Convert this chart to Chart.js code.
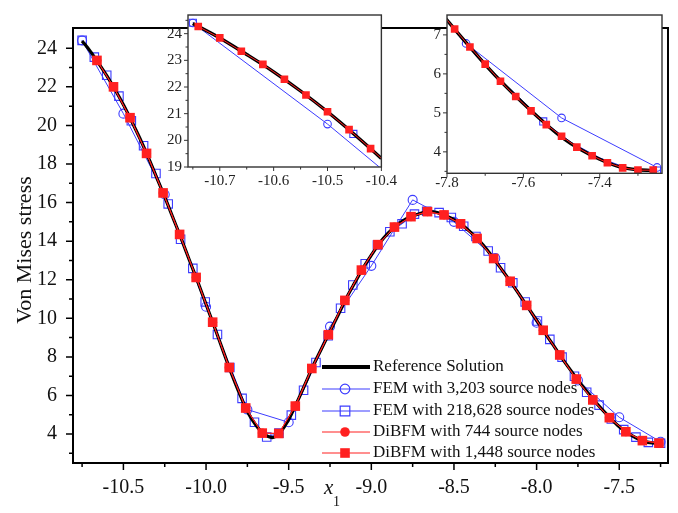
<!DOCTYPE html>
<html><head><meta charset="utf-8">
<script src="https://cdn.jsdelivr.net/npm/chart.js@4.4.0/dist/chart.umd.min.js"></script>
<style>
html,body{margin:0;padding:0;background:#fff;}
#wrap{position:relative;width:678px;height:513px;background:#fff;}
canvas{position:absolute;}
#main{left:0;top:0;}
#in1{left:140px;top:0;}
#in2{left:400px;top:0;}
</style></head><body>
<div id="wrap">
<canvas id="main" width="678" height="513"></canvas>
<canvas id="in1" width="262" height="195"></canvas>
<canvas id="in2" width="270" height="195"></canvas>
</div>
<script>
// ---------------- data ----------------
const seriesNames = ['Reference Solution','FEM with 3,203 source nodes','FEM with 218,628 source nodes','DiBFM with 744 source nodes','DiBFM with 1,448 source nodes'];

const refX = [-10.75,-10.70,-10.65,-10.60,-10.55,-10.50,-10.45,-10.40,-10.35,-10.30,-10.25,-10.20,-10.15,-10.10,-10.05,-10.00,-9.95,-9.90,-9.85,-9.80,-9.75,-9.70,-9.65,-9.60,-9.55,-9.50,-9.45,-9.40,-9.35,-9.30,-9.25,-9.20,-9.15,-9.10,-9.05,-9.00,-8.95,-8.90,-8.85,-8.80,-8.75,-8.70,-8.65,-8.60,-8.55,-8.50,-8.45,-8.40,-8.35,-8.30,-8.25,-8.20,-8.15,-8.10,-8.05,-8.00,-7.95,-7.90,-7.85,-7.80,-7.75,-7.70,-7.65,-7.60,-7.55,-7.50,-7.45,-7.40,-7.35,-7.30,-7.25];
const refY = [24.38,23.84,23.22,22.57,21.85,21.07,20.22,19.32,18.35,17.32,16.29,15.21,14.13,13.0,11.89,10.73,9.57,8.39,7.22,6.15,5.17,4.48,4.0,3.82,4.1,4.75,5.64,6.6,7.58,8.45,9.32,10.18,11.07,11.85,12.6,13.27,13.9,14.4,14.8,15.1,15.3,15.45,15.53,15.48,15.32,15.12,14.83,14.47,14.05,13.55,12.98,12.4,11.8,11.17,10.54,9.9,9.25,8.62,7.98,7.38,6.8,6.24,5.72,5.24,4.79,4.38,4.06,3.81,3.62,3.54,3.52];

const fem3203X = [-10.75,-10.5,-10.25,-10.0,-9.75,-9.5,-9.25,-9.0,-8.75,-8.5,-8.25,-8.0,-7.75,-7.5,-7.25];
const fem3203Y = [24.4,20.61,16.42,10.6,5.27,4.61,9.57,12.72,16.14,15.0,13.12,9.77,6.78,4.87,3.6];

const fem218628X = [-10.750,-10.676,-10.601,-10.527,-10.452,-10.378,-10.303,-10.229,-10.154,-10.080,-10.005,-9.931,-9.856,-9.782,-9.707,-9.633,-9.559,-9.484,-9.410,-9.335,-9.261,-9.186,-9.112,-9.037,-8.963,-8.888,-8.814,-8.739,-8.665,-8.590,-8.516,-8.441,-8.367,-8.293,-8.218,-8.144,-8.069,-7.995,-7.920,-7.846,-7.771,-7.697,-7.622,-7.548,-7.473,-7.399,-7.324,-7.250];
const fem218628Y = [24.41,23.54,22.60,21.52,20.24,18.95,17.51,15.93,14.1,12.59,10.85,9.16,7.45,5.85,4.61,3.85,4.05,4.98,6.27,7.71,9.1,10.52,11.73,12.83,13.8,14.49,14.9,15.4,15.55,15.48,15.23,14.77,14.24,13.49,12.62,11.84,10.85,9.86,8.91,7.99,7.0,6.17,5.5,4.78,4.23,3.84,3.57,3.52];
const fem218628InsetMarks = [0,4,43,47];

const dibfm744X = [-10.66,-10.56,-10.46,-10.36,-10.26,-10.16,-10.06,-9.96,-9.86,-9.76,-9.66,-9.56,-9.46,-9.36,-9.26,-9.16,-9.06,-8.96,-8.86,-8.76,-8.66,-8.56,-8.46,-8.36,-8.26,-8.16,-8.06,-7.96,-7.86,-7.76,-7.66,-7.56,-7.46,-7.36,-7.26];
const dibfm744Y = [23.37,22.0,20.4,18.55,16.5,14.35,12.12,9.8,7.45,5.35,4.05,4.03,5.45,7.4,9.15,10.93,12.5,13.82,14.73,15.27,15.53,15.36,14.9,14.14,13.1,11.92,10.67,9.38,8.1,6.85,5.77,4.85,4.12,3.66,3.53];
const dibfm1448X = [-10.66,-10.56,-10.46,-10.36,-10.26,-10.16,-10.06,-9.96,-9.86,-9.76,-9.66,-9.56,-9.46,-9.36,-9.26,-9.16,-9.06,-8.96,-8.86,-8.76,-8.66,-8.56,-8.46,-8.36,-8.26,-8.16,-8.06,-7.96,-7.86,-7.76,-7.66,-7.56,-7.46,-7.36,-7.26];
const dibfm1448Y = [23.37,22.0,20.4,18.55,16.5,14.35,12.12,9.8,7.45,5.35,4.05,4.03,5.45,7.4,9.15,10.93,12.5,13.82,14.73,15.27,15.53,15.36,14.9,14.14,13.1,11.92,10.67,9.38,8.1,6.85,5.77,4.85,4.12,3.66,3.53];

const inset1DibfmX = [-10.74,-10.70,-10.66,-10.62,-10.58,-10.54,-10.50,-10.46,-10.42,-10.38];
const inset1DibfmY = [24.27,23.84,23.34,22.85,22.29,21.70,21.07,20.40,19.69,18.95];
const inset2DibfmX = [-7.82,-7.78,-7.74,-7.70,-7.66,-7.62,-7.58,-7.54,-7.50,-7.46,-7.42,-7.38,-7.34,-7.30,-7.26];
const inset2DibfmY = [7.62,7.15,6.69,6.25,5.81,5.42,5.05,4.70,4.40,4.12,3.90,3.72,3.59,3.53,3.53];

// tick labels
const mainXTicks = [-10.5,-10.0,-9.5,-9.0,-8.5,-8.0,-7.5];
const mainXMinor = [-10.75,-10.25,-9.75,-9.25,-8.75,-8.25,-7.75,-7.25];
const mainYTicks = [4,6,8,10,12,14,16,18,20,22,24];
const mainYMinor = [3,5,7,9,11,13,15,17,19,21,23];
const in1XTicks = [-10.7,-10.6,-10.5,-10.4];
const in1XMinor = [-10.75,-10.65,-10.55,-10.45];
const in1YTicks = [19,20,21,22,23,24];
const in1YMinor = [19.5,20.5,21.5,22.5,23.5,24.5];
const in2XTicks = [-7.8,-7.6,-7.4];
const in2XMinor = [-7.7,-7.5,-7.3];
const in2YTicks = [4,5,6,7];
const in2YMinor = [3.5,4.5,5.5,6.5];

// ---------------- styles ----------------
const FONT = '"Liberation Serif","Times New Roman",serif';
const BLUE = '#3c3cff', RED = '#ff2020';
const pts = (xs, ys) => xs.map((x, i) => ({x: x, y: ys[i]}));

function decoPlugin(cfg) {
  return {
    id: 'deco',
    beforeDatasetsDraw(chart) {
      if (!cfg.fill) return;
      const a = chart.chartArea, c = chart.ctx;
      c.save(); c.fillStyle = '#fff'; c.fillRect(a.left, a.top, a.right - a.left, a.bottom - a.top); c.restore();
    },
    afterDraw(chart) {
      const c = chart.ctx, a = chart.chartArea, xs = chart.scales.x, ys = chart.scales.y;
      c.save();
      c.strokeStyle = cfg.color; c.lineWidth = cfg.tickWidth; c.beginPath();
      const xt = (vals, len) => vals.forEach(v => { const p = xs.getPixelForValue(v); c.moveTo(p, a.bottom); c.lineTo(p, a.bottom + len); });
      const yt = (vals, len) => vals.forEach(v => { const p = ys.getPixelForValue(v); c.moveTo(a.left, p); c.lineTo(a.left - len, p); });
      xt(cfg.xMajor, cfg.major); xt(cfg.xMinor, cfg.minor); yt(cfg.yMajor, cfg.major); yt(cfg.yMinor, cfg.minor);
      c.stroke();
      c.lineWidth = cfg.frameWidth;
      c.strokeRect(a.left, a.top, a.right - a.left, a.bottom - a.top);
      c.restore();
      if (cfg.extra) cfg.extra(chart);
    }
  };
}

function makeChart(id, datasets, o) {
  return new Chart(document.getElementById(id), {
    type: 'scatter',
    data: {datasets: datasets},
    options: {
      responsive: false, animation: false, events: [],
      layout: {padding: {left: 0, top: o.padTop, right: o.padRight, bottom: 0}},
      plugins: {legend: {display: false}, tooltip: {enabled: false}},
      scales: {
        x: {type: 'linear', min: o.xMin, max: o.xMax,
          afterBuildTicks: s => { s.ticks = o.xLab.map(v => ({value: v})); },
          afterFit: s => { s.height = o.xH; },
          ticks: {autoSkip: false, maxRotation: 0, minRotation: 0, padding: o.xPad, color: o.tc, font: {family: FONT, size: o.fs}, callback: v => o.xFmt(v)},
          grid: {display: false, drawTicks: false}, border: {display: false}},
        y: {type: 'linear', min: o.yMin, max: o.yMax,
          afterBuildTicks: s => { s.ticks = o.yLab.map(v => ({value: v})); },
          afterFit: s => { s.width = o.yW; },
          ticks: {autoSkip: false, padding: o.yPad, color: o.tc, font: {family: FONT, size: o.fs}, callback: v => String(v)},
          grid: {display: false, drawTicks: false}, border: {display: false}}
      }
    },
    plugins: [decoPlugin(o.deco)]
  });
}

function line(data, color, width, extra) {
  return Object.assign({data: data, showLine: true, borderColor: color, borderWidth: width, pointRadius: 0, tension: 0, fill: false}, extra || {});
}

// ---------------- legend / titles ----------------
function drawMarker(c, type, x, y, r) {
  c.beginPath();
  if (type === 'oc' || type === 'fc') c.arc(x, y, r, 0, Math.PI * 2);
  else c.rect(x - r, y - r, 2 * r, 2 * r);
  if (type === 'oc' || type === 'os') { c.strokeStyle = BLUE; c.lineWidth = 1.2; c.stroke(); }
  else { c.fillStyle = RED; c.fill(); }
}

function mainExtra(chart) {
  const c = chart.ctx;
  c.save();
  // legend
  const rows = [367, 389, 411, 432, 453];
  const kinds = [null, 'oc', 'os', 'fc', 'fs'];
  const cols = ['#000', BLUE, BLUE, RED, RED];
  rows.forEach((y, i) => {
    c.beginPath(); c.strokeStyle = cols[i]; c.lineWidth = i === 0 ? 4 : 1.2;
    c.moveTo(322, y); c.lineTo(370, y); c.stroke();
    if (kinds[i]) drawMarker(c, kinds[i], 345, y, 4.8);
    c.fillStyle = '#111'; c.font = '17px ' + FONT; c.textBaseline = 'middle'; c.textAlign = 'left';
    c.fillText(seriesNames[i], 373, y);
  });
  // axis titles
  c.fillStyle = '#111';
  c.font = 'italic 21px ' + FONT; c.textBaseline = 'alphabetic'; c.textAlign = 'left';
  c.fillText('x', 324, 494);
  c.font = '14px ' + FONT;
  c.fillText('1', 333, 506);
  c.translate(25, 250); c.rotate(-Math.PI / 2);
  c.font = '22px ' + FONT; c.textAlign = 'center'; c.textBaseline = 'middle';
  c.fillText('Von Mises stress', 0, 0);
  c.restore();
}

// ---------------- main chart ----------------
makeChart('main', [
  line(pts(dibfm1448X, dibfm1448Y), RED, 1, {pointStyle: 'rect', pointRadius: 6.8, pointBackgroundColor: RED, pointBorderColor: RED, pointBorderWidth: 0}),
  line(pts(dibfm744X, dibfm744Y), RED, 1, {pointStyle: 'circle', pointRadius: 4.5, pointBackgroundColor: RED, pointBorderColor: RED, pointBorderWidth: 0}),
  line(pts(refX, refY), '#000', 3.2, {cubicInterpolationMode: 'monotone'}),
  line(pts(fem3203X, fem3203Y), BLUE, 1, {pointStyle: 'circle', pointRadius: 4.5, pointBackgroundColor: 'rgba(0,0,0,0)', pointBorderColor: BLUE, pointBorderWidth: 1.1}),
  line(pts(fem218628X, fem218628Y), BLUE, 1, {pointStyle: 'rect', pointRadius: 6, pointBackgroundColor: 'rgba(0,0,0,0)', pointBorderColor: BLUE, pointBorderWidth: 1.1})
], {
  padTop: 9, padRight: 10, xMin: -10.805, xMax: -7.205, yMin: 2.5, yMax: 25.05,
  xLab: mainXTicks, yLab: mainYTicks, xH: 50, yW: 73, xPad: 13, yPad: 16, fs: 20, tc: '#111',
  xFmt: v => v.toFixed(1),
  deco: {color: '#000', tickWidth: 1.5, frameWidth: 2, major: 7, minor: 4,
    xMajor: mainXTicks, xMinor: mainXMinor, yMajor: mainYTicks, yMinor: mainYMinor, extra: mainExtra}
});

// ---------------- insets ----------------
function insetSets(dX, dY) {
  return [
    line(pts(dX, dY), RED, 1, {pointStyle: 'rect', pointRadius: 5.4, pointBackgroundColor: RED, pointBorderColor: RED, pointBorderWidth: 0, clip: 0}),
    line(pts(refX, refY), '#000', 3.4, {cubicInterpolationMode: 'monotone', clip: 0}),
    line(pts(fem3203X, fem3203Y), BLUE, 1, {pointStyle: 'circle', pointRadius: 3.8, pointBackgroundColor: 'rgba(0,0,0,0)', pointBorderColor: BLUE, pointBorderWidth: 1.1, clip: 0}),
    line(pts(fem218628X, fem218628Y), BLUE, 1, {pointStyle: 'rect', pointRadius: ctx => fem218628InsetMarks.includes(ctx.dataIndex) ? 5 : 0, pointBackgroundColor: 'rgba(0,0,0,0)', pointBorderColor: BLUE, pointBorderWidth: 1.1, clip: 0})
  ];
}

makeChart('in1', insetSets(inset1DibfmX, inset1DibfmY), {
  padTop: 13.5, padRight: 10, xMin: -10.759, xMax: -10.4, yMin: 19, yMax: 24.7,
  xLab: in1XTicks, yLab: in1YTicks, xH: 28, yW: 48, xPad: 5, yPad: 6, fs: 15, tc: '#222',
  xFmt: v => v.toFixed(1),
  deco: {fill: true, color: '#333', tickWidth: 1, frameWidth: 1.4, major: 4, minor: 2.5,
    xMajor: in1XTicks, xMinor: in1XMinor, yMajor: in1YTicks, yMinor: in1YMinor}
});

makeChart('in2', insetSets(inset2DibfmX, inset2DibfmY), {
  padTop: 13.3, padRight: 8, xMin: -7.8, xMax: -7.237, yMin: 3.45, yMax: 7.51,
  xLab: in2XTicks, yLab: in2YTicks, xH: 21.7, yW: 47, xPad: 1, yPad: 6, fs: 15, tc: '#222',
  xFmt: v => v.toFixed(1),
  deco: {fill: true, color: '#333', tickWidth: 1, frameWidth: 1.4, major: 4, minor: 2.5,
    xMajor: in2XTicks, xMinor: in2XMinor, yMajor: in2YTicks, yMinor: in2YMinor}
});
</script>
</body></html>
